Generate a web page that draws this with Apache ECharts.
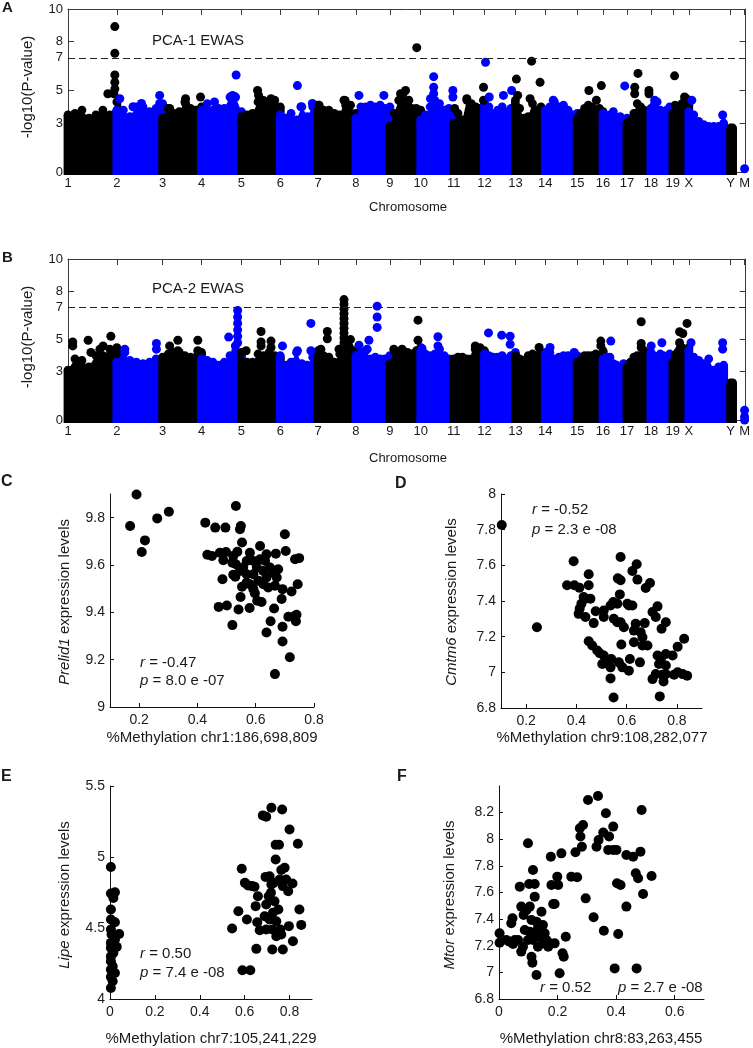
<!DOCTYPE html>
<html><head><meta charset="utf-8">
<script src="https://cdn.jsdelivr.net/npm/echarts@6/dist/echarts.min.js"></script>
<style>html,body{margin:0;padding:0;background:#fff}#c{width:753px;height:1048px}</style>
</head><body><div id="c"></div>
<script>
// ---------- DATA ----------
const chrNames  = ['1','2','3','4','5','6','7','8','9','10','11','12','13','14','15','16','17','18','19','X','Y','M'];
const chrStarts = [0,196,380,536,696,852,1004,1156,1292,1416,1548,1672,1796,1916,2044,2148,2244,2340,2428,2492,2660,2716];
const chrEnds   = [196,380,536,696,852,1004,1156,1292,1416,1548,1672,1796,1916,2044,2148,2244,2340,2428,2492,2632,2668,2716];
const genomeEnd = 2720;
const manhattanYTicks = [0,3,5,7,8,10];
const threshold = 7;

// dense-body upper envelope per chromosome (-log10 P), PCA-1
const envA = [
 [3.5,3.6,3.8,3.3,3.5,3.8,3.5,4.3],
 [3.8,3.8,3.4,4.0,4.0,3.7,3.9,4.2],
 [3.3,3.9,3.6,3.7,4.3,3.9,3.8,4.0],
 [3.8,4.2,3.8,3.9,3.9,4.6,4.6,3.7],
 [3.4,3.5,3.6,4.3,4.4,4.3,4.4,4.0],
 [3.5,3.3,3.6,3.2,4.0,3.4,4.0,3.5],
 [4.1,3.8,3.8,3.6,3.5,4.4,4.1,3.6],
 [3.3,4.0,4.0,4.1,4.0,4.1,3.9,4.0],
 [2.8,3.6,4.4,4.8,4.2,3.9,3.9,3.8],
 [3.2,3.5,4.0,4.4,4.2,3.8,3.9,3.7],
 [3.0,3.6,3.2,4.4,4.2,4.0,3.9,3.7],
 [4.3,4.0,3.6,3.8,4.0,3.7,3.9,4.2],
 [4.4,3.9,3.3,3.4,4.2,3.8,4.0,3.8],
 [3.8,4.0,4.3,4.0,4.1,3.8,3.5,3.6],
 [3.3,3.6,3.9,4.1,4.0,3.8,3.9,3.7],
 [3.6,3.4,3.5,3.7,3.3,3.4,3.2,3.3],
 [3.0,3.2,3.6,4.2,4.0,3.8,3.6,3.7],
 [3.9,4.1,4.3,3.8,3.6,3.8,4.0,3.9],
 [3.6,4.1,4.0,3.9,4.2,4.3,4.5,4.1],
 [3.7,3.5,3.1,2.9,2.8,2.8,2.8,3.0],
 [2.7,2.7]
];
// scattered points above the dense body, PCA-1: [genome position, -log10 P]
const outA = [
 [188,8.92],[188,7.28],[188,5.95],[188,5.5],[188,5.1],[184,4.8],[160,4.8],
 [208,4.5],[261,4.0],[295,4.2],[368,4.7],[368,4.2],
 [408,3.9],[472,4.5],[472,4.2],[532,4.6],
 [675,5.95],[661,4.7],[668,4.6],[588,4.3],
 [761,5.0],[765,4.7],[815,4.5],[828,4.4],
 [921,5.3],[935,4.0],[981,4.2],
 [1008,4.1],[1108,4.4],[1115,4.1],
 [1168,4.7],[1268,4.7],
 [1355,5.0],[1335,4.8],[1340,4.6],[1368,4.4],[1400,7.63],
 [1468,5.85],[1468,5.2],[1468,4.8],[1455,4.5],[1545,5.0],[1545,4.6],
 [1552,3.9],[1601,4.5],[1668,5.2],[1668,4.4],
 [1676,6.73],[1691,4.6],[1748,4.7],[1781,5.0],
 [1800,5.7],[1805,4.7],[1861,6.8],[1855,4.5],[1895,5.5],
 [1948,4.4],
 [2091,5.0],[2121,4.4],[2141,5.3],
 [2235,5.28],
 [2275,5.2],[2275,4.8],[2288,6.05],
 [2332,5.0],[2332,4.8],[2355,4.4],
 [2435,5.9],[2475,4.6],
 [2504,4.4],[2628,3.5],
 [2716,0.2]
];
// PCA-2
const envB = [
 [3.1,3.8,3.7,3.3,4.0,4.0,4.4,4.5],
 [3.6,3.8,3.7,3.6,3.5,3.6,3.8,3.6],
 [3.9,4.1,4.2,4.2,4.0,3.9,3.9,4.2],
 [3.8,3.7,3.6,3.4,3.6,4.0,4.3,4.0],
 [4.2,3.6,3.6,4.1,4.0,4.2,4.0,3.9],
 [4.0,3.4,3.6,4.2,3.5,3.4,3.9,3.7],
 [4.3,4.0,3.9,3.6,4.1,4.3,5.0,4.3],
 [4.0,4.2,4.3,3.8,3.9,3.8,3.8,4.0],
 [3.5,4.3,4.1,4.3,4.2,4.1,4.3,4.5],
 [4.3,4.1,4.0,4.1,4.4,4.0,3.8,3.7],
 [3.8,3.9,3.9,3.8,3.8,4.1,4.5,4.3],
 [4.1,4.0,3.9,3.9,4.0,3.8,4.0,4.2],
 [4.0,3.8,3.7,4.0,4.1,4.0,4.2,4.1],
 [4.2,4.2,3.8,3.9,4.0,4.0,3.9,4.0],
 [3.6,3.7,4.0,4.0,4.0,4.1,4.0,4.3],
 [3.8,3.9,3.9,3.5,3.4,3.3,3.5,3.4],
 [3.3,3.6,3.9,4.0,4.0,4.3,4.1,3.8],
 [4.2,4.0,3.9,4.1,4.0,3.9,4.1,4.0],
 [3.6,4.0,4.2,4.4,4.5,4.3,4.2,4.5],
 [4.3,3.9,3.7,3.5,3.8,3.1,3.3,3.4],
 [2.3,2.3]
];
const outB = [
 [19,4.85],[19,4.6],[81,4.95],[92,4.2],[141,4.6],[172,5.2],[128,4.4],
 [228,4.4],[228,4.2],[355,4.75],[355,4.4],
 [408,4.6],[441,4.95],[441,4.3],[521,4.95],[521,4.3],
 [645,5.15],[681,6.8],[681,6.4],[681,6.0],[681,5.6],[681,5.2],[681,4.8],[672,4.6],
 [715,4.3],[775,5.5],[775,4.85],[775,4.6],[815,4.9],[815,4.5],
 [861,4.6],[921,4.3],[975,6.0],[975,4.3],
 [1015,4.4],[1041,5.5],[1041,5.05],[1108,7.48],[1108,7.2],[1108,6.9],[1108,6.6],[1108,6.3],[1108,6.0],[1108,5.7],[1108,5.4],[1108,5.1],[1108,4.8],[1108,4.6],[1088,4.4],[1121,4.9],
 [1168,4.65],[1201,4.4],[1208,4.95],[1241,7.07],[1241,6.4],[1241,5.75],
 [1308,4.4],[1341,4.4],[1405,6.2],[1405,4.95],
 [1485,5.17],[1485,4.6],[1421,4.45],
 [1635,4.6],[1635,4.4],
 [1688,5.41],[1741,5.27],[1775,5.2],[1775,4.7],
 [1891,4.5],
 [1935,4.5],[2032,4.2],
 [2139,4.9],[2139,4.6],
 [2179,4.9],
 [2301,6.1],[2301,4.75],[2301,4.5],
 [2341,4.6],[2384,4.8],
 [2455,5.48],[2455,4.8],[2468,5.37],[2485,6.0],
 [2501,4.8],[2628,4.8],[2628,4.4],
 [2716,0.6],[2716,0.2],[2716,0.0]
];

// C: Prelid1 vs %methylation chr1:186,698,809
const prelid1 = [
 [0.169,9.765],[0.191,9.898],[0.209,9.655],[0.220,9.704],[0.262,9.797],[0.302,9.825],
 [0.427,9.779],[0.461,9.758],[0.496,9.758],[0.532,9.849],[0.546,9.751],[0.549,9.765],[0.553,9.695],[0.700,9.730],
 [0.434,9.643],[0.450,9.638],[0.477,9.652],[0.498,9.655],[0.489,9.620],[0.520,9.610],[0.537,9.656],[0.532,9.603],[0.580,9.652],[0.615,9.680],[0.592,9.617],[0.637,9.645],[0.669,9.648],[0.703,9.659],[0.735,9.624],[0.749,9.629],
 [0.486,9.540],[0.530,9.550],[0.546,9.575],[0.557,9.589],[0.569,9.561],[0.592,9.561],[0.604,9.589],[0.626,9.575],[0.637,9.547],[0.649,9.589],[0.660,9.568],[0.677,9.582],[0.672,9.547],
 [0.553,9.508],[0.580,9.519],[0.609,9.533],[0.626,9.519],[0.643,9.505],[0.666,9.512],[0.692,9.498],[0.723,9.488],[0.744,9.519],
 [0.548,9.465],[0.597,9.481],[0.605,9.449],[0.620,9.444],[0.689,9.456],
 [0.473,9.423],[0.501,9.429],[0.541,9.412],[0.579,9.418],[0.663,9.416],[0.712,9.381],[0.735,9.385],[0.740,9.390],[0.738,9.362],
 [0.520,9.346],[0.651,9.362],[0.637,9.315],[0.692,9.339],[0.692,9.277],[0.717,9.210],[0.666,9.139],
 [0.523,9.559],[0.569,9.617],[0.615,9.624],[0.632,9.617],[0.569,9.526],[0.592,9.498],[0.523,9.638]
];
// D: Cmtm6 vs chr9:108,282,077
const cmtm6 = [
 [0.103,7.826],[0.243,7.253],[0.389,7.623],[0.363,7.488],[0.392,7.488],[0.412,7.475],[0.429,7.422],[0.420,7.385],[0.436,7.413],[0.456,7.413],
 [0.449,7.488],[0.449,7.550],[0.413,7.356],[0.409,7.328],[0.436,7.310],[0.469,7.276],[0.477,7.343],[0.509,7.347],[0.509,7.310],[0.536,7.375],
 [0.547,7.394],[0.563,7.385],[0.573,7.437],[0.565,7.527],[0.576,7.516],[0.576,7.647],[0.549,7.300],[0.563,7.281],[0.576,7.281],[0.589,7.253],
 [0.603,7.385],[0.609,7.375],[0.623,7.375],[0.623,7.568],[0.640,7.606],[0.643,7.520],[0.676,7.473],[0.693,7.501],[0.703,7.338],[0.723,7.370],
 [0.716,7.310],[0.739,7.244],[0.756,7.281],[0.636,7.272],[0.629,7.234],[0.672,7.276],[0.656,7.225],[0.663,7.197],[0.683,7.150],[0.663,7.150],
 [0.579,7.156],[0.629,7.169],[0.449,7.174],[0.463,7.150],[0.483,7.122],[0.493,7.107],[0.509,7.094],[0.503,7.047],[0.516,7.051],[0.525,7.069],
 [0.539,7.075],[0.536,7.028],[0.569,7.056],[0.583,7.028],[0.609,7.009],[0.613,7.075],[0.653,7.056],[0.536,6.966],[0.723,7.094],[0.756,7.103],
 [0.736,7.075],[0.783,7.094],[0.803,7.144],[0.829,7.188],[0.729,7.047],[0.756,7.038],[0.703,6.962],[0.716,6.990],[0.743,6.987],[0.747,6.949],
 [0.756,6.990],[0.789,6.987],[0.803,7.000],[0.823,6.990],[0.841,6.981],[0.548,6.859],[0.732,6.865]
];
// E: Lipe vs chr7:105,241,229
const lipe = [
 [0.004,4.929],[0.004,4.743],[0.022,4.752],[0.015,4.712],[0.004,4.630],[0.022,4.540],[0.004,4.489],[0.007,4.454],[0.041,4.458],[0.022,4.418],
 [0.030,4.367],[0.004,4.360],[0.004,4.300],[0.004,4.266],[0.012,4.230],[0.004,4.207],[0.022,4.183],[0.004,4.155],[0.012,4.125],[0.004,4.077],
 [0.004,4.395],[0.015,4.324],[0.004,4.560],
 [0.544,4.496],[0.572,4.618],[0.587,4.917],[0.601,4.818],[0.610,4.560],[0.590,4.202],[0.625,4.202],[0.652,4.353],[0.633,4.795],[0.644,4.790],
 [0.649,4.654],[0.659,4.724],[0.656,4.541],[0.667,4.484],[0.681,5.293],[0.696,5.284],[0.719,5.347],[0.767,5.335],[0.800,5.194],[0.837,5.093],
 [0.696,4.665],[0.693,4.860],[0.711,4.865],[0.729,4.818],[0.738,5.086],[0.753,5.086],[0.738,4.983],[0.763,4.908],[0.778,4.924],[0.756,4.842],
 [0.785,4.842],[0.794,4.759],[0.813,4.813],[0.707,4.724],[0.717,4.748],[0.733,4.689],[0.726,4.607],[0.750,4.630],[0.711,4.560],[0.741,4.548],
 [0.696,4.489],[0.723,4.489],[0.759,4.489],[0.741,4.442],[0.763,4.454],[0.797,4.513],[0.844,4.630],[0.852,4.522],[0.815,4.407],[0.723,4.348],
 [0.770,4.348],[0.689,4.583],[0.615,4.800],[0.719,4.807],[0.770,4.795]
];
// F: Mtor vs chr8:83,263,455
const mtor = [
 [0.002,7.293],[0.002,7.223],[0.036,7.231],[0.048,7.213],[0.054,7.243],[0.042,7.369],[0.046,7.406],[0.071,7.644],[0.076,7.494],[0.084,7.431],
 [0.088,7.318],[0.082,7.193],[0.076,7.156],[0.099,7.970],[0.103,7.664],[0.105,7.494],[0.099,7.243],[0.111,7.394],[0.116,7.769],[0.122,7.664],
 [0.122,7.569],[0.111,7.118],[0.114,7.073],[0.128,6.980],[0.116,7.243],[0.128,7.293],[0.133,7.193],[0.145,7.456],[0.150,7.356],[0.139,7.268],
 [0.150,7.218],[0.173,7.218],[0.190,7.218],[0.162,7.243],[0.177,7.869],[0.179,7.657],[0.202,7.657],[0.199,7.719],[0.185,7.514],[0.190,7.514],
 [0.213,7.894],[0.228,7.268],[0.207,6.993],[0.217,7.143],[0.221,7.118],[0.247,7.719],[0.267,7.714],[0.261,7.902],[0.276,8.082],[0.287,8.107],
 [0.278,8.020],[0.283,7.944],[0.304,8.295],[0.338,8.325],[0.296,7.556],[0.323,7.414],[0.333,7.944],[0.340,7.995],[0.356,8.050],[0.365,8.195],
 [0.358,7.313],[0.376,8.020],[0.390,8.095],[0.373,7.920],[0.390,7.920],[0.401,7.920],[0.403,7.669],[0.415,7.657],[0.407,7.288],[0.395,7.030],
 [0.435,7.882],[0.458,7.869],[0.435,7.494],[0.470,7.030],[0.467,7.744],[0.475,7.707],[0.487,8.220],[0.483,7.907],[0.492,7.589],[0.521,7.724],
 [0.025,7.243],[0.065,7.243],[0.094,7.469],[0.128,7.381],[0.133,7.331],[0.156,7.293],[0.105,7.306],[0.168,7.193]
];

// ---------- STYLE ----------
const FF = '"Liberation Sans", Arial, Helvetica, sans-serif';
const TXT = '#1a1a1a';
const AX = '#3a3a3a';
const BLACK = '#000000';
const BLUE = '#0000ff';
const chrColor = i => (i % 2 === 0 ? BLACK : BLUE);
function chrIndexOf(x){ let k = 0; for (let i=0;i<chrStarts.length;i++){ if (chrStarts[i] <= x) k = i; } return k; }
function nameOf(v){ let best=0,bd=1e9; chrStarts.forEach((s,i)=>{const d=Math.abs(s-v); if(d<bd){bd=d;best=i;}}); return chrNames[best]; }
const fmt = v => String(+(+v).toFixed(2));

function bodyRenderer(env){
  return function(params, api){
    const i = api.value(2);
    const e = env[i];
    const s = chrStarts[i], t = chrEnds[i];
    const r = 4.4;
    const tops = e.map((v,k) => api.coord([s + (t - s) * k / (e.length - 1), v]));
    const b0 = api.coord([s, 0]), b1 = api.coord([t, 0]);
    const pts = [[tops[0][0]-r, tops[0][1]]].concat(tops, [[tops[tops.length-1][0]+r, tops[tops.length-1][1]], [b1[0]+r, b1[1]+3], [b0[0]-r, b0[1]+3]]);
    const col = chrColor(i);
    const children = [{type:'polygon', shape:{points:pts}, style:{fill:col}}];
    tops.forEach(p => children.push({type:'circle', shape:{cx:p[0], cy:p[1], r:r}, style:{fill:col}}));
    return {type:'group', children: children};
  };
}

function manhattanAxes(g){
  const xs = [
    {gridIndex:g, type:'value', min:0, max:genomeEnd, position:'bottom',
     axisLine:{show:true, onZero:false, lineStyle:{color:AX, width:1}},
     axisTick:{show:true, inside:true, length:6, customValues:chrStarts, lineStyle:{color:AX}},
     axisLabel:{show:true, customValues:chrStarts, formatter:nameOf, margin:5, color:TXT, fontSize:13, fontFamily:FF},
     splitLine:{show:false}},
    {gridIndex:g, type:'value', min:0, max:genomeEnd, position:'top',
     axisLine:{show:true, onZero:false, lineStyle:{color:AX, width:1}},
     axisTick:{show:true, inside:true, length:6, customValues:chrStarts, lineStyle:{color:AX}},
     axisLabel:{show:false}, splitLine:{show:false}}
  ];
  const ys = [
    {gridIndex:g, type:'value', min:0, max:10, position:'left',
     axisLine:{show:true, onZero:false, lineStyle:{color:AX, width:1}},
     axisTick:{show:true, inside:true, length:6, customValues:manhattanYTicks, lineStyle:{color:AX}},
     axisLabel:{show:true, customValues:manhattanYTicks, margin:5, color:TXT, fontSize:13, fontFamily:FF},
     splitLine:{show:false}},
    {gridIndex:g, type:'value', min:0, max:10, position:'right',
     axisLine:{show:true, onZero:false, lineStyle:{color:AX, width:1}},
     axisTick:{show:true, inside:true, length:6, customValues:manhattanYTicks, lineStyle:{color:AX}},
     axisLabel:{show:false}, splitLine:{show:false}}
  ];
  return {xs, ys};
}
function scatterAxes(g, xmin, xmax, xt, ymin, ymax, yt){
  const common = {axisLine:{show:true, onZero:false, lineStyle:{color:'#111', width:1}}, splitLine:{show:false}};
  return {
    x: Object.assign({gridIndex:g, type:'value', min:xmin, max:xmax,
      axisTick:{show:true, inside:true, length:4, customValues:xt, lineStyle:{color:'#111'}},
      axisLabel:{customValues:xt, formatter:fmt, margin:6, color:TXT, fontSize:14, fontFamily:FF}}, common),
    y: Object.assign({gridIndex:g, type:'value', min:ymin, max:ymax,
      axisTick:{show:true, inside:true, length:4, customValues:yt, lineStyle:{color:'#111'}},
      axisLabel:{customValues:yt, formatter:fmt, margin:5, color:TXT, fontSize:14, fontFamily:FF}}, common)
  };
}

const mA = manhattanAxes(0), mB = manhattanAxes(1);
const aC = scatterAxes(2, 0.1, 0.8, [0.2,0.4,0.6,0.8], 9, 9.9, [9,9.2,9.4,9.6,9.8]);
const aD = scatterAxes(3, 0.1, 0.9, [0.2,0.4,0.6,0.8], 6.8, 8, [6.8,7,7.2,7.4,7.6,7.8,8]);
const aE = scatterAxes(4, 0, 0.9, [0,0.2,0.4,0.6,0.8], 4, 5.5, [4,4.5,5,5.5]);
const aF = scatterAxes(5, 0, 0.7, [0,0.2,0.4,0.6], 6.8, 8.4, [6.8,7,7.2,7.4,7.6,7.8,8,8.2]);

const bodyIdx = chrNames.slice(0,21).map((n,i) => [chrStarts[i], 0, i]);
const dashLine = {silent:true, symbol:'none', label:{show:false}, animation:false,
  lineStyle:{type:[7,4], color:'#222', width:1.2}, data:[{yAxis:threshold}]};

function outSeries(data, xi, yi){
  return {type:'scatter', xAxisIndex:xi, yAxisIndex:yi, data:data, symbolSize:9, z:3,
    itemStyle:{color: p => chrColor(chrIndexOf(p.value[0])), opacity:1}, markLine:dashLine};
}
function dotSeries(data, idx){
  return {type:'scatter', xAxisIndex:idx, yAxisIndex:idx, data:data, symbolSize:10, itemStyle:{color:'#000', opacity:1}};
}

function txt(x, y, text, opts){
  opts = opts || {};
  return {type:'text', x:x, y:y, rotation:opts.rot||0, z:10, style:{
    text:text, fill:TXT, fontSize:opts.size||15, fontFamily:FF, fontWeight:opts.weight||'normal',
    align:opts.align||'left', verticalAlign:'middle',
    rich:{i:{fontStyle:'italic', fontSize:opts.size||15, fontFamily:FF, fill:TXT}, n:{fontSize:opts.size||15, fontFamily:FF, fill:TXT}}
  }};
}
const ROT = Math.PI/2;

const option = {
  animation:false,
  backgroundColor:'#fff',
  grid:[
    {left:68, top:9, width:680, height:163},
    {left:68, top:259, width:680, height:161},
    {left:110, top:494, width:204, height:213},
    {left:501, top:494, width:201, height:214},
    {left:110, top:786, width:202, height:213},
    {left:499, top:786, width:205, height:213}
  ],
  xAxis:[mA.xs[0], mA.xs[1], mB.xs[0], mB.xs[1], aC.x, aD.x, aE.x, aF.x],
  yAxis:[mA.ys[0], mA.ys[1], mB.ys[0], mB.ys[1], aC.y, aD.y, aE.y, aF.y],
  series:[
    {type:'custom', xAxisIndex:0, yAxisIndex:0, data:bodyIdx, renderItem:bodyRenderer(envA), clip:false, silent:true, z:2},
    outSeries(outA, 0, 0),
    {type:'custom', xAxisIndex:2, yAxisIndex:2, data:bodyIdx, renderItem:bodyRenderer(envB), clip:false, silent:true, z:2},
    outSeries(outB, 2, 2),
    dotSeries(prelid1, 4), dotSeries(cmtm6, 5), dotSeries(lipe, 6), dotSeries(mtor, 7)
  ],
  graphic:[
    txt(2, 8, 'A', {weight:'bold', size:15}),
    txt(2, 258, 'B', {weight:'bold', size:15}),
    txt(1, 482, 'C', {weight:'bold', size:16}),
    txt(395, 484, 'D', {weight:'bold', size:16}),
    txt(1, 777, 'E', {weight:'bold', size:16}),
    txt(397, 777, 'F', {weight:'bold', size:16}),
    txt(152, 41, 'PCA-1 EWAS'),
    txt(152, 289, 'PCA-2 EWAS'),
    txt(28, 87, '-log10(P-value)', {rot:ROT, align:'center'}),
    txt(28, 337, '-log10(P-value)', {rot:ROT, align:'center'}),
    txt(408, 207, 'Chromosome', {align:'center', size:13}),
    txt(408, 458, 'Chromosome', {align:'center', size:13}),
    txt(212, 738, '%Methylation chr1:186,698,809', {align:'center'}),
    txt(602, 738, '%Methylation chr9:108,282,077', {align:'center'}),
    txt(211, 1039, '%Methylation chr7:105,241,229', {align:'center'}),
    txt(601, 1039, '%Methylation chr8:83,263,455', {align:'center'}),
    txt(65, 602, '{i|Prelid1}{n| expression levels}', {rot:ROT, align:'center'}),
    txt(452, 602, '{i|Cmtm6}{n| expression levels}', {rot:ROT, align:'center'}),
    txt(65, 895, '{i|Lipe}{n| expression levels}', {rot:ROT, align:'center'}),
    txt(450, 895, '{i|Mtor}{n| expression levels}', {rot:ROT, align:'center'}),
    txt(140, 663, '{i|r}{n| = -0.47}'),
    txt(140, 681, '{i|p}{n| = 8.0 e -07}'),
    txt(532, 510, '{i|r}{n| = -0.52}'),
    txt(532, 530, '{i|p}{n| = 2.3 e -08}'),
    txt(140, 954, '{i|r}{n| = 0.50}'),
    txt(140, 973, '{i|p}{n| = 7.4 e -08}'),
    txt(540, 988, '{i|r}{n| = 0.52}'),
    txt(618, 988, '{i|p}{n| = 2.7 e -08}')
  ]
};
const chart = echarts.init(document.getElementById('c'), null, {renderer:'canvas'});
chart.setOption(option);
</script></body></html>
